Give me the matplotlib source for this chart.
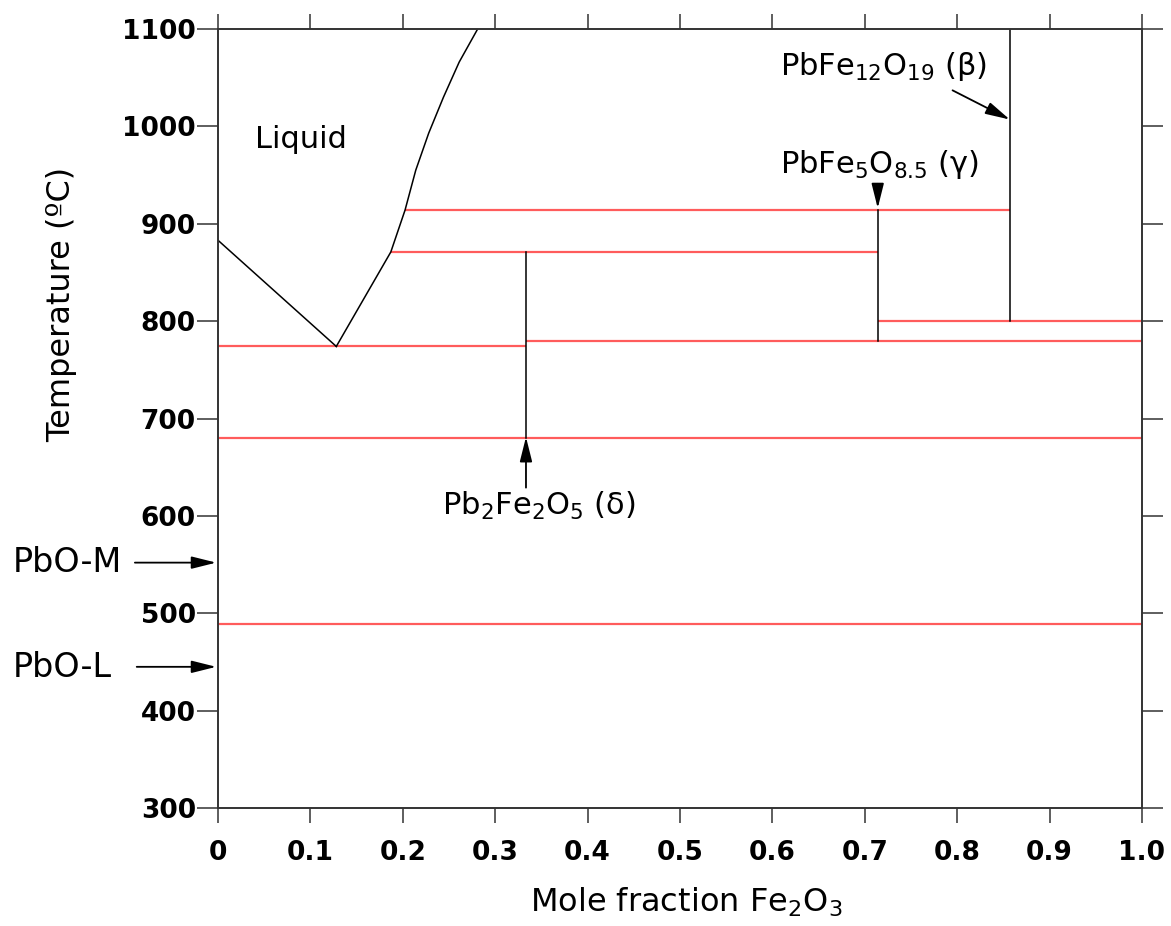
#!/usr/bin/env python3

import matplotlib
matplotlib.use('Agg')
import matplotlib.pyplot as plt

# liquidus (mole fraction Fe2O3, temperature in C)
liq_left_x = [0.0, 0.128]
liq_left_t = [883, 774]
liq_right_x = [0.128, 0.187, 0.2024, 0.214, 0.228, 0.244, 0.261, 0.281]
liq_right_t = [774, 871, 914, 955, 993, 1030, 1066, 1100]

# invariant (red) lines: temperature, x start, x end
red_t = [914, 871, 800, 780, 774, 680, 489]
red_x0 = [0.2024, 0.187, 0.714, 0.3333, 0.0, 0.0, 0.0]
red_x1 = [0.857, 0.714, 1.0, 1.0, 0.3333, 1.0, 1.0]

# compounds (black verticals): x, t bottom, t top
comp_x = [0.3333, 0.714, 0.857]
comp_t0 = [680, 780, 800]
comp_t1 = [871, 914, 1100]

xticks = [0, 0.1, 0.2, 0.3, 0.4, 0.5, 0.6, 0.7, 0.8, 0.9, 1.0]
xticklabels = ['0', '0.1', '0.2', '0.3', '0.4', '0.5', '0.6', '0.7', '0.8', '0.9', '1.0']
yticks = [300, 400, 500, 600, 700, 800, 900, 1000, 1100]

RED = '#ff5c5c'
SPINE = '#333333'

plt.rcParams['font.family'] = ['DejaVu Sans']
plt.rcParams['mathtext.fontset'] = 'dejavusans'

fig = plt.figure(figsize=(11.71, 9.26), dpi=100)
ax = fig.add_axes([0.1862, 0.1274, 0.789, 0.8413])
ax.set_xlim(0, 1)
ax.set_ylim(300, 1100)

for t, a, b in zip(red_t, red_x0, red_x1):
    ax.plot([a, b], [t, t], color=RED, lw=1.6, solid_capstyle='butt')

for x, a, b in zip(comp_x, comp_t0, comp_t1):
    ax.plot([x, x], [a, b], color='black', lw=1.1)

ax.plot(liq_left_x, liq_left_t, color='black', lw=1.1)
ax.plot(liq_right_x, liq_right_t, color='black', lw=1.1)

ax.set_xticks(xticks)
ax.set_xticklabels(xticklabels)
ax.set_yticks(yticks)
for lab in ax.get_xticklabels() + ax.get_yticklabels():
    lab.set_fontweight('bold')
    lab.set_fontsize(19)

ax.tick_params(axis='x', direction='out', top=True, length=11, width=1.1,
               color=SPINE, pad=12)
ax.tick_params(axis='y', direction='out', right=True, length=15, width=1.1,
               color=SPINE, pad=1)
for s in ax.spines.values():
    s.set_color(SPINE)
    s.set_linewidth(1.4)

ax.text(-0.169, 0.646, 'Temperature (\u00baC)', transform=ax.transAxes,
        rotation=90, ha='center', va='center', fontsize=23)
ax.text(0.5065, -0.1335, 'Mole fraction Fe$_2$O$_3$', transform=ax.transAxes,
        ha='center', va='baseline', fontsize=23)

ax.text(0.040, 978, 'Liquid', fontsize=22, ha='left', va='baseline')
ax.text(0.608, 1053, 'PbFe$_{12}$O$_{19}$ (\u03b2)', fontsize=22, ha='left', va='baseline')
ax.text(0.608, 952, 'PbFe$_{5}$O$_{8.5}$ (\u03b3)', fontsize=22, ha='left', va='baseline')
ax.text(0.242, 601, 'Pb$_2$Fe$_2$O$_5$ (\u03b4)', fontsize=22, ha='left', va='baseline')
ax.text(-0.222, 542, 'PbO-M', fontsize=24, ha='left', va='baseline', clip_on=False)
ax.text(-0.222, 435, 'PbO-L', fontsize=24, ha='left', va='baseline', clip_on=False)

arrow = dict(arrowstyle='-|>,head_width=0.25,head_length=1.0', color='black',
             lw=1.3, mutation_scale=15, shrinkA=0, shrinkB=0)
ax.annotate('', xy=(0.857, 1007), xytext=(0.795, 1037), arrowprops=arrow)
ax.annotate('', xy=(0.714, 916), xytext=(0.714, 941), arrowprops=arrow)
ax.annotate('', xy=(0.3333, 681), xytext=(0.3333, 629), arrowprops=arrow)
ax.annotate('', xy=(-0.002, 552), xytext=(-0.09, 552), arrowprops=arrow,
            annotation_clip=False)
ax.annotate('', xy=(-0.002, 445), xytext=(-0.088, 445), arrowprops=arrow,
            annotation_clip=False)

fig.savefig('out.png', dpi=100)
plt.close(fig)
